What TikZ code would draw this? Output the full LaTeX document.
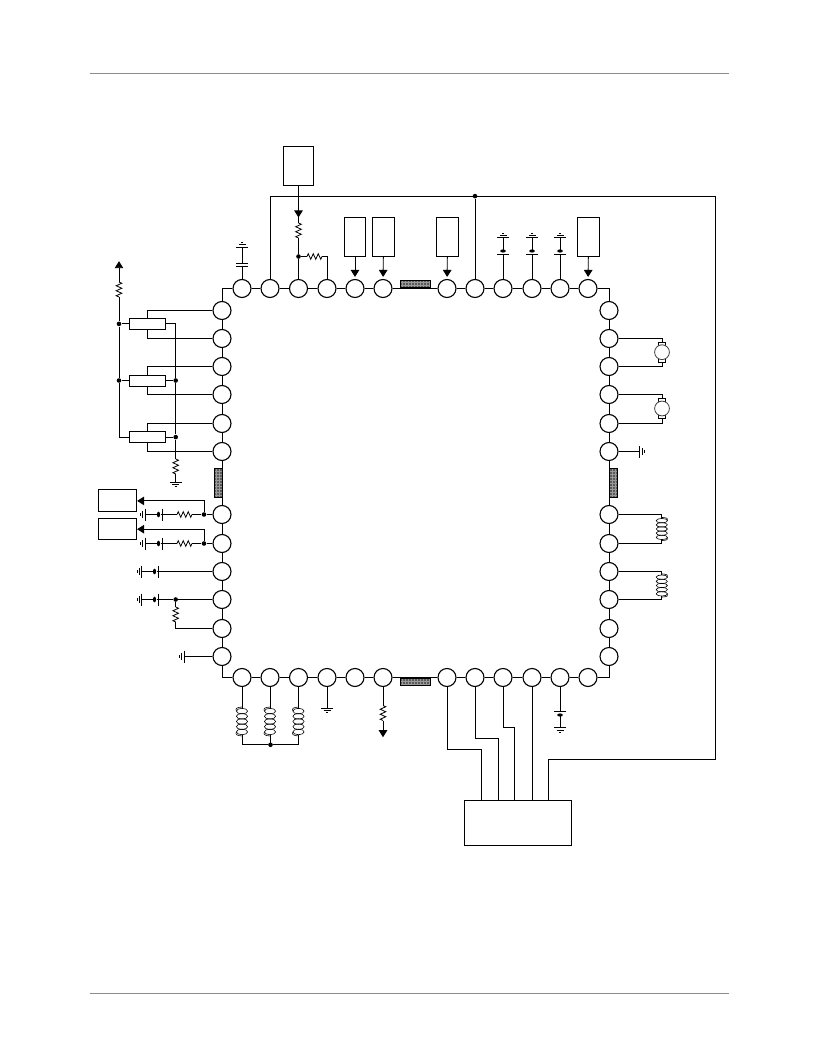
\documentclass[tikz,border=0pt]{standalone}
\usepackage{tikz}
\usetikzlibrary{arrows.meta,patterns}
\tikzset{
  pinring/.style={draw,circle,fill=white,line width=1.1pt,minimum size=18pt,inner sep=0pt},
  boxnode/.style={draw,rectangle,inner sep=0pt,line width=.9pt},
  dotj/.style={circle,fill=black,minimum size=4.6pt,inner sep=0pt},
  hatchbar/.style={draw,rectangle,inner sep=0pt,line width=.5pt,pattern=grid,pattern color=black!40,preaction={fill=black!65}},
  feed/.style={-{Triangle[length=7pt,width=8.5pt]}},
  rulegray/.style={draw=black!45,line width=1pt},
  res/.pic={
    \fill[white] (-7.5,-1) rectangle (7.5,1);
    \draw[line width=.8pt] (-7.5,0) -- (-6.25,-2.8) -- (-3.75,2.8) -- (-1.25,-2.8) -- (1.25,2.8) -- (3.75,-2.8) -- (6.25,2.8) -- (7.5,0);
  },
  gnd/.pic={
    \draw (-6,0) -- (6,0);
    \draw[line width=.7pt] (-3.5,2.4) -- (3.5,2.4);
    \draw[line width=.7pt] (-1.2,4.6) -- (1.2,4.6);
  },
  pcap/.pic={
    \fill[white] (-2,.6) rectangle (2,2.2);
    \draw (-6,0) -- (6,0);
    \fill (0,3.5) ellipse (2.8pt and 1.6pt);
  },
  nbcap/.pic={
    \fill[white] (-2,.4) rectangle (2,2.6);
    \draw (-6,0) -- (6,0);
    \draw (-6,3) -- (6,3);
  },
  coil/.pic={
    \fill[white] (-1,-13) rectangle (1,13);
    \foreach \k in {-10.4,-5.2,0,5.2,10.4}
      \draw[line width=.6pt] (0,\k) ellipse (5.6pt and 2.8pt);
    \draw[line width=.6pt] (0,-14.5) .. controls (5.5,-14) and (6.8,-13) .. (5.6,-10.4);
    \draw[line width=.6pt] (0,14.5) .. controls (5.5,14) and (6.8,13) .. (5.6,10.4);
  },
  motor/.pic={
    \draw[fill=white,line width=.8pt] (-3.8,-10) rectangle (3.8,-6.5);
    \draw[fill=white,line width=.8pt] (-3.8,6.5) rectangle (3.8,10);
    \draw[fill=white,line width=.8pt,draw=black!75] (0,0) circle (7.4pt);
  }
}
\begin{document}
\begin{tikzpicture}[x=1pt,y=-1pt,line width=.9pt]
\useasboundingbox (0,-.5) rectangle (816,1055.5);
\draw[rulegray] (90,73) -- (729,73);
\draw[rulegray] (90,993) -- (729,993);
% pins
\foreach \x [count=\i] in {242,270,298.5,327,355,383,447,475,503,532,560,588} {
  \node[pinring] (t\i) at (\x,288) {};
  \node[pinring] (b\i) at (\x,677) {};
}
\foreach \y [count=\i] in {310,338,366,394,423,451,514,543,571,599,628,656} {
  \node[pinring] (l\i) at (222,\y) {};
  \node[pinring] (r\i) at (609,\y) {};
}
% ring of pins
\draw (l1) |- (t1);
\draw (t12) -| (r1);
\draw (l12) |- (b1);
\draw (b12) -| (r12);
\foreach \i [remember=\i as \p (initially 1)] in {2,...,12} {
  \draw (t\p) -- (t\i);
  \draw (b\p) -- (b\i);
  \draw (l\p) -- (l\i);
  \draw (r\p) -- (r\i);
}
\node[hatchbar,minimum width=29.5pt,minimum height=7pt] (hattop) at (415.3,283.6) {};
\node[hatchbar,minimum width=29.5pt,minimum height=7pt] (hatbot) at (415.3,681) {};
\node[hatchbar,minimum width=8pt,minimum height=29pt] (hatlft) at (218,482.5) {};
\node[hatchbar,minimum width=8pt,minimum height=29pt] (hatrgt) at (613,482.5) {};
% top side
\coordinate (cg1) at (242,246.5);
\draw (t1) -- (cg1);
\pic[rotate=180] at (242,266) {nbcap};
\pic[rotate=180] at (cg1) {gnd};
\node[boxnode,minimum width=30pt,minimum height=39pt] (supply) at (298.5,165.5) {};
\coordinate (feedtip) at (298.5,217);
\node[dotj] (jtap) at (298.5,256) {};
\coordinate (tapc) at (327,256);
\draw[feed] (supply) -- (feedtip);
\draw (feedtip) -- (jtap) -- (t3);
\draw (jtap) -- (tapc) -- (t4);
\pic[rotate=90] at (298.5,230) {res};
\pic at (314.5,256) {res};
\foreach \x/\i/\tg in {355/1/t5,383.5/2/t6,447.5/3/t7,588.5/4/t12} {
  \node[boxnode,minimum width=21.5pt,minimum height=39pt] (inbox\i) at (\x,236.5) {};
  \draw[feed,shorten >=2pt] (inbox\i) -- (\tg);
}
\foreach \i in {9,10,11} {
  \coordinate (cgnd\i) at (t\i |- 0,237.3);
  \draw (t\i) -- (cgnd\i);
  \pic[rotate=180] at (t\i |- 0,254) {pcap};
  \pic[rotate=180] at (cgnd\i) {gnd};
}
% bus round the chip
\node[boxnode,minimum width=107pt,minimum height=45pt] (ctrl) at (518,822.5) {};
\node[dotj] (jbus) at (475,195.6) {};
\coordinate (busa) at (270,195.6);
\coordinate (busb) at (715,195.6);
\coordinate (busc) at (715,758.6);
\coordinate (busd) at (548,758.6);
\draw (t2) -- (busa) -- (busb) -- (busc) -- (busd) -- (busd |- ctrl.north);
\draw (jbus) -- (t8);
% trimmers
\coordinate (vcc) at (119,260.7);
\node[dotj] (rail1) at (119,323.4) {};
\node[dotj] (rail2) at (119,380) {};
\coordinate (rail3) at (119,436.6);
\coordinate (rgt1) at (175.7,323.4);
\node[dotj] (rgt2) at (175.7,380) {};
\node[dotj] (rgt3) at (175.7,436.6) {};
\coordinate (trgnd) at (175.7,481.5);
\foreach \y/\i/\j/\k in {323.4/1/1/2,380/2/3/4,436.6/3/5/6} {
  \node[boxnode,fill=white,minimum width=36.4pt,minimum height=11pt] (trim\i) at (147.5,\y) {};
  \draw (trim\i.north) |- (l\j);
  \draw (trim\i.south) |- (l\k);
}
\draw[feed] (rail1) -- (vcc);
\draw (rail1) -- (rail2) -- (rail3) -- (trim3);
\draw (rail1) -- (trim1);
\draw (rail2) -- (trim2);
\draw (trim1) -- (rgt1) -- (rgt2) -- (rgt3) -- (trgnd);
\draw (trim2) -- (rgt2);
\draw (trim3) -- (rgt3);
\pic[rotate=90] at (119,289) {res};
\pic[rotate=90] at (175.7,466) {res};
\pic at (trgnd) {gnd};
% left side
\node[boxnode,minimum width=38.7pt,minimum height=22pt] (sensa) at (117.3,500.4) {};
\node[boxnode,minimum width=38.7pt,minimum height=21pt] (sensb) at (117.3,528.7) {};
\foreach \i/\y/\s in {7/514/sensa,8/543/sensb} {
  \node[dotj] (jl\i) at (204,\y) {};
  \coordinate (lg\i) at (145,\y);
  \draw (l\i) -- (jl\i) -- (lg\i);
  \draw[feed] (jl\i) |- (\s);
  \pic at (184.5,\y) {res};
  \pic[rotate=-90] at (162,\y) {pcap};
  \pic[rotate=-90] at (lg\i) {gnd};
}
\coordinate (lg9) at (141.7,571);
\draw (l9) -- (lg9);
\pic[rotate=-90] at (158,571) {pcap};
\pic[rotate=-90] at (lg9) {gnd};
\coordinate (lg10) at (141.7,599);
\node[dotj] (jl10) at (175.7,599) {};
\coordinate (lc11) at (175.7,628);
\draw (l10) -- (jl10) -- (lg10);
\draw (jl10) -- (lc11) -- (l11);
\pic[rotate=90] at (175.7,614) {res};
\pic[rotate=-90] at (158,599) {pcap};
\pic[rotate=-90] at (lg10) {gnd};
\coordinate (lg12) at (184,656);
\draw (l12) -- (lg12);
\pic[rotate=-90] at (lg12) {gnd};
% right side
\foreach \i/\j/\c/\d in {2/3/ma/351.7,4/5/mb/408} {
  \coordinate (\c1) at (662,\d);
  \draw (r\i) -| (\c1);
  \draw (r\j) -| (\c1);
  \pic at (\c1) {motor};
}
\coordinate (rg6) at (639.5,451);
\draw (r6) -- (rg6);
\pic[rotate=90] at (rg6) {gnd};
\foreach \i/\j/\c/\d in {7/8/ca/528.5,9/10/cb/585} {
  \coordinate (\c1) at (661.8,\d);
  \draw (r\i) -| (\c1);
  \draw (r\j) -| (\c1);
  \pic[yscale=.8] at (\c1) {coil};
}
% bottom side
\coordinate (cjl) at (242.5,744.3);
\node[dotj] (cjm) at (270.5,744.3) {};
\coordinate (cjr) at (298.5,744.3);
\draw (b1 |- cjl) -- (cjm) -- (cjr);
\foreach \i in {1,2,3} {
  \draw (b\i) -- (b\i |- cjl);
  \pic[xscale=-1] at (b\i |- 0,721) {coil};
}
\coordinate (bg4) at (327,707.7);
\draw (b4) -- (bg4);
\pic at (bg4) {gnd};
\coordinate (pulltip) at (383,736.7);
\draw[feed] (b6) -- (pulltip);
\pic[rotate=90] at (383,712.5) {res};
\coordinate (bg11) at (560,727);
\draw (b11) -- (bg11);
\pic at (560,711) {pcap};
\pic at (bg11) {gnd};
% lines down to the controller
\coordinate (dna) at (447,749.3);
\coordinate (dnb) at (475,738);
\coordinate (dnc) at (503,727);
\draw (b7) -- (dna) -| (481,800);
\draw (b8) -- (dnb) -| (498,800);
\draw (b9) -- (dnc) -| (514.7,800);
\draw (b10) -- (b10 |- ctrl.north);
\end{tikzpicture}
\end{document}
